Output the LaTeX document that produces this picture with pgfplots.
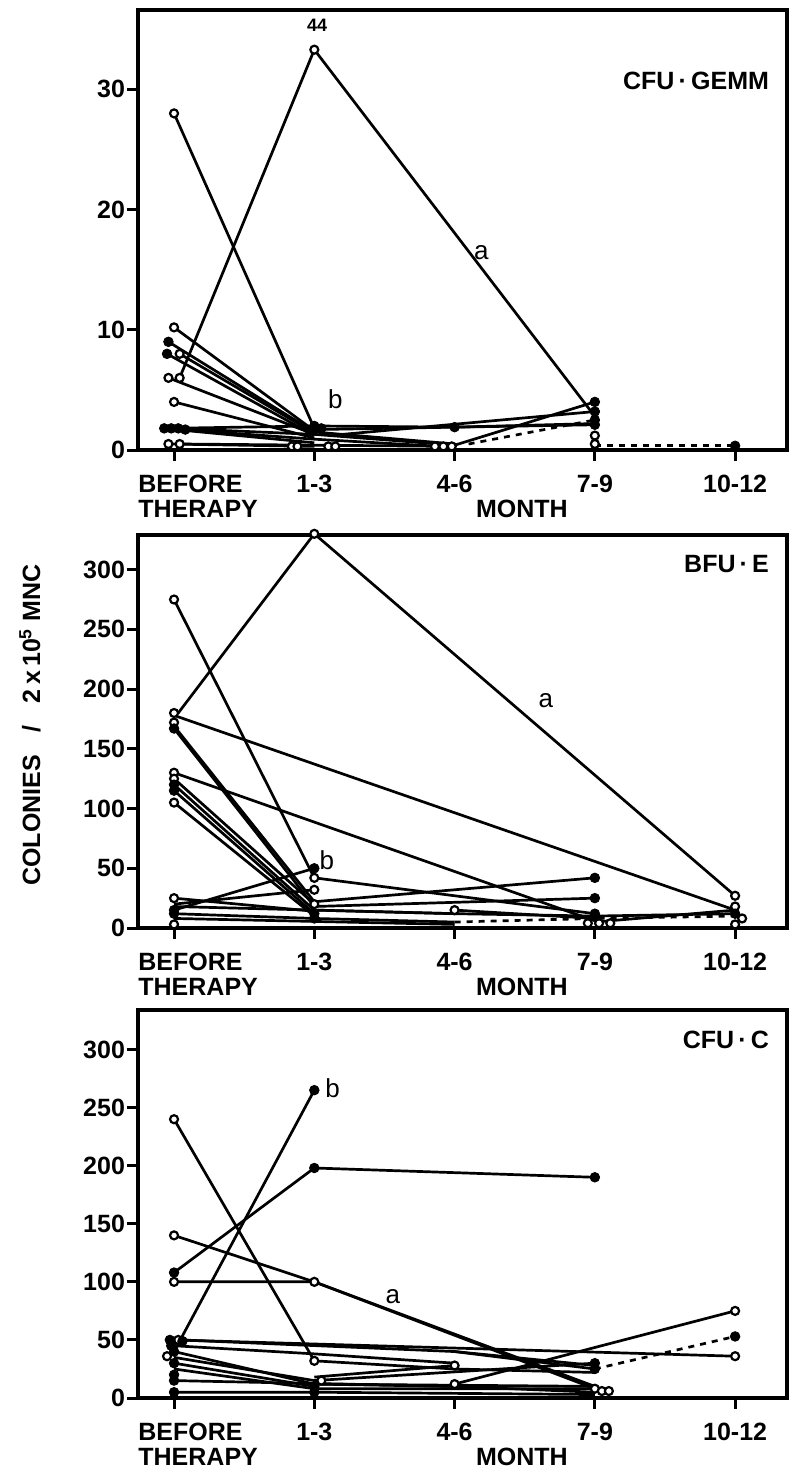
\documentclass[border=0pt]{standalone}
\usepackage{fontspec}
\setmainfont{Liberation Sans}
\usepackage{pgfplots}
\pgfplotsset{compat=1.18}

\newcommand{\lbl}{\bfseries\fontsize{12.5}{12.5}\selectfont}

\pgfplotsset{
  panel/.style={
    scale only axis, width=324.5pt,
    xmin=-0.257, xmax=4.37, ymin=0,
    xtick={0,1,2,3,4}, xticklabels={,1-3,4-6,7-9,10-12},
    tick align=outside, tick pos=left,
    major tick length=5.5pt,
    axis line style={line width=1.8pt},
    every tick/.append style={line width=1.5pt, black},
    clip=false,
    ticklabel style={font=\lbl},
    xticklabel style={yshift=-3.5pt},
    yticklabel style={xshift=2.5pt},
    /pgf/number format/assume math mode=true,
    scaled y ticks=false,
  },
  ln/.style={black, line width=1.35pt, no marks},
  om/.style={only marks, mark=*, mark size=2pt,
    mark options={fill=white, draw=black, line width=1.1pt}},
  fm/.style={only marks, mark=*, mark size=2.4pt,
    mark options={fill=black, draw=black}},
}
\tikzset{ab/.style={font=\mdseries\fontsize{13}{13}\selectfont}}

\begin{document}
\begin{tikzpicture}[font=\lbl]
\useasboundingbox (0,0) rectangle (395pt,-736pt);

% ---------------- CFU-GEMM ----------------
\begin{axis}[panel, at={(69pt,-225pt)}, anchor=south west,
  height=220pt, ymax=36.6, ytick={0,10,20,30}]
\addplot[ln] coordinates {(0.04,6) (1,33.3) (3,2.8)};
\addplot[ln] coordinates {(0,28) (1,1.8)};
\addplot[ln] coordinates {(0,10.2) (1,1.6)};
\addplot[ln] coordinates {(-0.04,9) (1,1.5)};
\addplot[ln] coordinates {(-0.05,8) (1,1.2)};
\addplot[ln] coordinates {(0.04,8) (1,1.4)};
\addplot[ln] coordinates {(-0.04,6) (1,1.3)};
\addplot[ln] coordinates {(0,4) (1,1.0)};
\addplot[ln] coordinates {(-0.05,1.8) (1,2.0)};
\addplot[ln] coordinates {(0,1.8) (1,1.3) (2,0.4)};
\addplot[ln] coordinates {(0.05,1.7) (1,0.9) (1.9,0.3)};
\addplot[ln] coordinates {(0.1,1.6) (1,0.6)};
\addplot[ln] coordinates {(1,2.0) (2,1.9) (3,2.2)};
\addplot[ln] coordinates {(1,1.7) (3,2.1)};
\addplot[ln] coordinates {(1,1.5) (2,0.5)};
\addplot[ln] coordinates {(2,0.4) (3,4.0)};
\addplot[ln] coordinates {(1.2,1.3) (3,3.2)};
\addplot[ln, dashed] coordinates {(2.1,0.5) (3,2.5)};
\addplot[ln, dashed] coordinates {(3,0.35) (4,0.35)};
\addplot[ln] coordinates {(-0.04,0.5) (1,0.3)};
\addplot[ln] coordinates {(0.04,0.5) (2,0.3)};
\addplot[om] coordinates {(0,28) (0,10.2) (0.04,8) (-0.04,6) (0.04,6) (0,4)
  (-0.04,0.5) (0.04,0.5) (1,33.3) (0.84,0.3) (0.88,0.3) (1.1,0.3) (1.15,0.3)
  (1.86,0.3) (1.92,0.3) (1.98,0.3) (3,1.2) (3,0.5)};
\addplot[fm] coordinates {(-0.04,9) (-0.05,8) (-0.07,1.8) (-0.02,1.8) (0.03,1.8)
  (0.08,1.7) (1,2.0) (1.05,1.8) (0.97,1.6) (2,1.9) (3,4.0) (3,3.2) (3,2.5)
  (3,2.1) (4,0.35)};
\node[font=\bfseries\small] at (axis cs:1.02,35.3) {44};
\node[ab] at (axis cs:2.19,16.4) {a};
\node[ab] at (axis cs:1.15,4.2) {b};
\node[anchor=east] at (rel axis cs:0.983,0.838) {CFU\,\textperiodcentered\,GEMM};
\node[anchor=north west, align=left, inner sep=0pt] at ([yshift=-12.5pt]rel axis cs:0,0) {BEFORE\\THERAPY};
\node[anchor=north, inner sep=0pt] at ([yshift=-25pt]axis cs:2.48,0) {MONTH};
\end{axis}

% ---------------- BFU-E ----------------
\begin{axis}[panel, at={(69pt,-464pt)}, anchor=south west,
  height=196.5pt, ymax=329, ytick={0,50,...,300}]
\addplot[ln] coordinates {(0.03,180) (1,330) (4,27)};
\addplot[ln] coordinates {(0,178) (4,15)};
\addplot[ln] coordinates {(0,275) (1,42) (3,12)};
\addplot[ln] coordinates {(0,130) (3,6)};
\addplot[ln] coordinates {(-0.02,172) (1,22)};
\addplot[ln] coordinates {(0,167) (1,18)};
\addplot[ln] coordinates {(0,125) (1,20)};
\addplot[ln] coordinates {(0,120) (1,15)};
\addplot[ln] coordinates {(0,115) (1,12)};
\addplot[ln] coordinates {(0,105) (1,10)};
\addplot[ln] coordinates {(0,15) (1,50)};
\addplot[ln] coordinates {(0,25) (1,14)};
\addplot[ln] coordinates {(0,20) (1,32)};
\addplot[ln] coordinates {(0,18) (2,12)};
\addplot[ln] coordinates {(0,12) (1,8) (2,5)};
\addplot[ln] coordinates {(0,8) (2,3)};
\addplot[ln] coordinates {(1,22) (3,42)};
\addplot[ln] coordinates {(1,18) (3,25)};
\addplot[ln] coordinates {(1,15) (2,12) (3,10)};
\addplot[ln] coordinates {(2,15) (3,8)};
\addplot[ln] coordinates {(3,5) (4,15)};
\addplot[ln] coordinates {(3,10) (4,12)};
\addplot[ln, dashed] coordinates {(2,5) (3,8) (4,10)};
\addplot[om] coordinates {(0,275) (0,180) (0,172) (0,130) (0,125) (0,105) (0,25) (0,3)
  (1,330) (1,42) (1,32) (1,20) (2,15) (2.95,4) (3.03,4) (3.11,4) (4,27) (4,18)
  (4.05,8) (4,3)};
\addplot[fm] coordinates {(0,167) (0,120) (0,115) (0,15) (0,12) (1,50) (1,12)
  (1,8) (3,42) (3,25) (3,12) (3,10) (4,12)};
\node[ab] at (axis cs:2.65,190) {a};
\node[ab] at (axis cs:1.09,57) {b};
\node[anchor=east] at (rel axis cs:0.983,0.925) {BFU\,\textperiodcentered\,E};
\node[anchor=north west, align=left, inner sep=0pt] at ([yshift=-12.5pt]rel axis cs:0,0) {BEFORE\\THERAPY};
\node[anchor=north, inner sep=0pt] at ([yshift=-25pt]axis cs:2.48,0) {MONTH};
\end{axis}

% ---------------- CFU-C ----------------
\begin{axis}[panel, at={(69pt,-699pt)}, anchor=south west,
  height=194pt, ymax=334, ytick={0,50,...,300}]
\addplot[ln] coordinates {(0,40) (1,265)};
\addplot[ln] coordinates {(0,108) (1,198) (3,190)};
\addplot[ln] coordinates {(0,240) (1,32)};
\addplot[ln] coordinates {(0,140) (1,100) (3,8)};
\addplot[ln] coordinates {(0,100) (1,100) (3,10)};
\addplot[ln] coordinates {(0,50) (4,36)};
\addplot[ln] coordinates {(0.05,50) (2,40) (3,28)};
\addplot[ln] coordinates {(0,45) (1,38) (2,30)};
\addplot[ln] coordinates {(0,40) (1,12) (2,10)};
\addplot[ln] coordinates {(0,35) (1,15) (3,30)};
\addplot[ln] coordinates {(0,30) (1,10)};
\addplot[ln] coordinates {(0,25) (1,8) (3,8)};
\addplot[ln] coordinates {(0,15) (2,10) (3,5)};
\addplot[ln] coordinates {(0,5) (1,5) (3,3)};
\addplot[ln] coordinates {(1,18) (2,28)};
\addplot[ln] coordinates {(1,32) (2,25) (3,22)};
\addplot[ln] coordinates {(2,12) (4,75)};
\addplot[ln] coordinates {(2,40) (3,25)};
\addplot[ln] coordinates {(1,12) (3,10)};
\addplot[ln, dashed] coordinates {(3,25) (4,53)};
\addplot[om] coordinates {(0,240) (0,140) (0,100) (0.03,50) (-0.05,36) (1,100) (1,32)
  (1.05,15) (2,28) (2,12) (4,75) (4,36) (3,8) (3.05,6) (3.1,6)};
\addplot[fm] coordinates {(0,108) (-0.03,50) (0.06,49) (-0.02,45) (0,40) (0,30)
  (0,20) (0,15) (0,5) (1,265) (1,198) (3,190) (3,30) (3,25) (4,53) (1,10) (1,5)};
\node[ab] at (axis cs:1.56,87) {a};
\node[ab] at (axis cs:1.13,267) {b};
\node[anchor=east] at (rel axis cs:0.983,0.923) {CFU\,\textperiodcentered\,C};
\node[anchor=north west, align=left, inner sep=0pt] at ([yshift=-12.5pt]rel axis cs:0,0) {BEFORE\\THERAPY};
\node[anchor=north, inner sep=0pt] at ([yshift=-25pt]axis cs:2.48,0) {MONTH};
\end{axis}

\node[rotate=90] at (15pt,-362.5pt) {COLONIES\hspace{0.9em}/\hspace{0.9em}2\,x\,10\textsuperscript{5} MNC};
\end{tikzpicture}
\end{document}
